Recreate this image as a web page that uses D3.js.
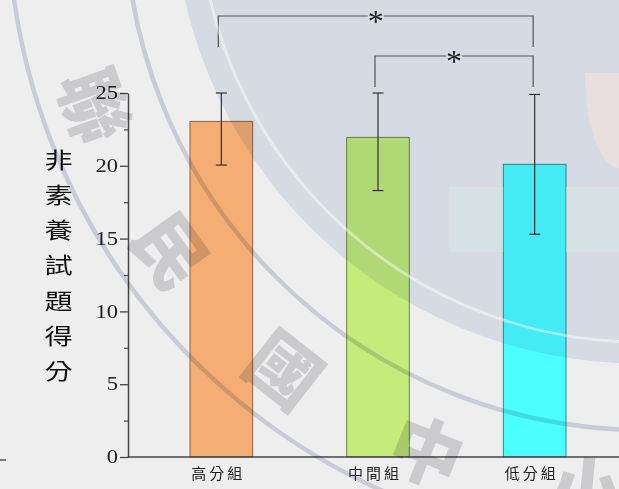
<!DOCTYPE html>
<html>
<head>
<meta charset="utf-8">
<script src="https://cdn.jsdelivr.net/npm/d3@7"></script>
<style>
  html, body { margin: 0; padding: 0; background: #eeeeee; }
  svg { display: block; }
</style>
</head>
<body>
<script>
// data
var groups = ["高分組", "中間組", "低分組"];
var means = [23.05, 21.95, 20.1];
var errLow = [20.05, 18.3, 15.3];
var errHigh = [25.0, 25.0, 24.9];
var barColors = ["#f4ae74", "#c3ec7a", "#4bfeff"];
var yTicks = [0, 5, 10, 15, 20, 25];
var yMinor = [2.5, 7.5, 12.5, 17.5, 22.5];
var yTitle = "非素養試題得分";
var pairs = [["高分組", "低分組"], ["中間組", "低分組"]];
var watermark = ["聯", "民", "國", "中", "小"];

var W = 619, H = 489;

var svg = d3.select("body").append("svg")
    .attr("width", W)
    .attr("height", H);

svg.append("rect")
    .attr("width", W).attr("height", H)
    .attr("fill", "#eeeeee");

var y = d3.scaleLinear().domain([0, 25]).range([457, 93]);
var x = d3.scaleBand().domain(groups).range([143, 613])
    .paddingInner(0.6).paddingOuter(0.3);
var cx = function(g) { return x(g) + x.bandwidth() / 2; };

// bars
svg.selectAll("rect.bar")
    .data(groups)
    .enter().append("rect")
    .attr("class", "bar")
    .attr("x", function(d) { return x(d); })
    .attr("y", function(d, i) { return y(means[i]); })
    .attr("width", x.bandwidth())
    .attr("height", function(d, i) { return y(0) - y(means[i]); })
    .attr("fill", function(d, i) { return barColors[i]; })
    .attr("stroke", function(d, i) { return d3.color(barColors[i]).darker(1.6); })
    .attr("stroke-width", 1);

// error bars
var eb = svg.selectAll("g.err")
    .data(groups)
    .enter().append("g")
    .attr("class", "err")
    .attr("stroke", "#333")
    .attr("stroke-width", 1.2);
eb.append("line")
    .attr("x1", cx).attr("x2", cx)
    .attr("y1", function(d, i) { return y(errLow[i]); })
    .attr("y2", function(d, i) { return y(errHigh[i]); });
eb.append("line")
    .attr("x1", function(d) { return cx(d) - 5.5; })
    .attr("x2", function(d) { return cx(d) + 5.5; })
    .attr("y1", function(d, i) { return y(errHigh[i]); })
    .attr("y2", function(d, i) { return y(errHigh[i]); });
eb.append("line")
    .attr("x1", function(d) { return cx(d) - 5.5; })
    .attr("x2", function(d) { return cx(d) + 5.5; })
    .attr("y1", function(d, i) { return y(errLow[i]); })
    .attr("y2", function(d, i) { return y(errLow[i]); });

// y axis
var yAxis = svg.append("g")
    .attr("transform", "translate(128,0)")
    .call(d3.axisLeft(y).tickValues(yTicks).tickSize(8).tickSizeOuter(0).tickPadding(0));
yAxis.select(".domain").attr("stroke", "#444").attr("stroke-width", 1.5);
yAxis.selectAll(".tick line").attr("stroke", "#444").attr("stroke-width", 1.3);
yAxis.selectAll(".tick text")
    .attr("x", -8)
    .attr("transform", "scale(1.25,1)")
    .attr("fill", "#222")
    .style("font-family", "'Liberation Serif', 'DejaVu Serif', serif")
    .style("font-size", "18px");
svg.append("g")
    .attr("transform", "translate(128,0)")
    .call(d3.axisLeft(y).tickValues(yMinor).tickSize(4).tickFormat(""))
    .call(function(g) {
      g.select(".domain").remove();
      g.selectAll("line").attr("stroke", "#444").attr("stroke-width", 1.2);
    });

// x axis line
svg.append("line")
    .attr("x1", 128).attr("x2", W)
    .attr("y1", y(0)).attr("y2", y(0))
    .attr("stroke", "#444").attr("stroke-width", 1.5);

svg.selectAll("text.xl")
    .data(groups)
    .enter().append("text")
    .attr("class", "xl")
    .attr("x", function(d) { return cx(d) - 3; })
    .attr("y", 474)
    .attr("dy", "0.35em")
    .attr("text-anchor", "middle")
    .attr("fill", "#222")
    .style("font-family", "'Noto Sans CJK TC', sans-serif")
    .style("font-size", "15px")
    .style("letter-spacing", "3px")
    .text(function(d) { return d; });

// y title, one character per row
var chars = yTitle.split("");
svg.selectAll("text.yt")
    .data(chars)
    .enter().append("text")
    .attr("class", "yt")
    .attr("transform", function(d, i) {
      return "translate(58.5," + (265.5 + (i - (chars.length - 1) / 2) * 35.2) + ") scale(1.28,1)";
    })
    .attr("dy", "0.36em")
    .attr("text-anchor", "middle")
    .attr("fill", "#111")
    .style("font-family", "'Noto Sans CJK TC', sans-serif")
    .style("font-size", "22px")
    .text(function(d) { return d; });

// significance brackets
var bracketTop = [16, 56], drop = 31;
pairs.forEach(function(p, k) {
  var x1 = cx(p[0]) - 3, x2 = cx(p[1]) - 1.5, yb = bracketTop[k];
  var xm = (x1 + x2) / 2;
  var g = svg.append("g").attr("stroke", "#5a5a5a").attr("stroke-width", 1.2).attr("fill", "none");
  g.append("path").attr("d", d3.line()([[x1, yb + drop], [x1, yb], [xm - 8, yb]]));
  g.append("path").attr("d", d3.line()([[xm + 8, yb], [x2, yb], [x2, yb + drop]]));
  svg.append("text")
      .attr("x", xm).attr("y", yb + 16)
      .attr("text-anchor", "middle")
      .attr("fill", "#222")
      .style("font-family", "'Liberation Serif', serif")
      .style("font-size", "32px")
      .text("*");
});

// stray mark at the lower left edge
svg.append("line")
    .attr("x1", 0).attr("x2", 6).attr("y1", 460).attr("y2", 460)
    .attr("stroke", "#333").attr("stroke-width", 1.2);

// watermark seal overlay
var C = [644, -89];
var wm = svg.append("g").style("mix-blend-mode", "multiply");
wm.append("circle").attr("cx", 639.5).attr("cy", -102.5).attr("r", 466)
    .attr("fill", "rgb(230,235,244)");
[519, 636].forEach(function(r) {
  wm.append("circle").attr("cx", C[0]).attr("cy", C[1]).attr("r", r)
      .attr("fill", "none").attr("stroke", "rgb(216,219,229)").attr("stroke-width", 4.5);
});
wm.selectAll("text")
    .data(watermark)
    .enter().append("text")
    .attr("transform", function(d, i) {
      var deg = 160.5 - i * 16.2, a = deg * Math.PI / 180, r = 584;
      var px = C[0] + r * Math.cos(a), py = C[1] + r * Math.sin(a);
      return "translate(" + px + "," + py + ") rotate(" + (deg - 90) + ")";
    })
    .attr("dy", "0.36em")
    .attr("text-anchor", "middle")
    .attr("fill", "rgb(218,218,220)")
    .style("font-family", "'Noto Sans CJK TC', sans-serif")
    .style("font-weight", "900")
    .style("font-size", "72px")
    .text(function(d) { return d; });

svg.append("circle").attr("cx", 641).attr("cy", -100).attr("r", 442)
    .attr("fill", "none").attr("stroke", "rgba(255,255,255,0.45)").attr("stroke-width", 3);
svg.append("path")
    .attr("d", "M619,73 L585,73 A34,95 0 0,0 619,168 Z")
    .attr("fill", "rgb(236,224,220)").attr("opacity", 0.8);
// faint teal band, left out where it crosses the last bar
var b3 = groups[2];
[[449, x(b3)], [x(b3) + x.bandwidth(), W]].forEach(function(s) {
  svg.append("rect")
      .attr("x", s[0]).attr("y", 187).attr("width", s[1] - s[0]).attr("height", 65)
      .attr("fill", "rgb(214,232,228)").attr("opacity", 0.45);
});
</script>
</body>
</html>
